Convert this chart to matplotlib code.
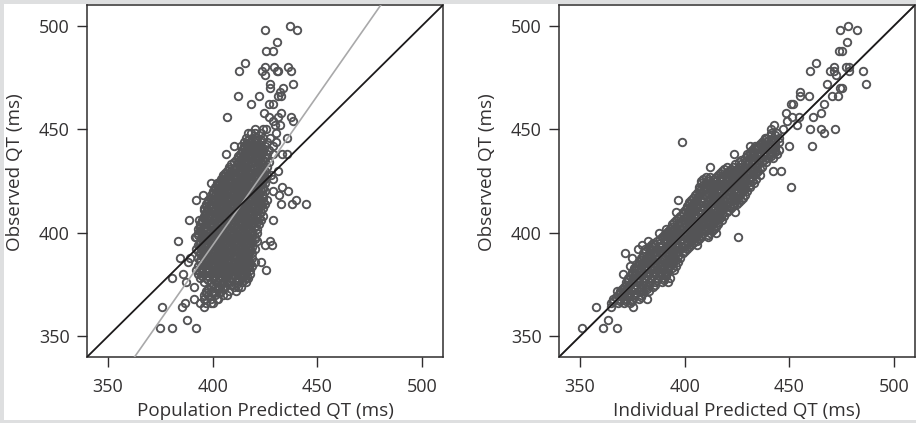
import matplotlib
matplotlib.use("Agg")
import matplotlib.pyplot as plt
from matplotlib.patches import Rectangle

######################################################## Data ######################################################
# scattered points around the edge of each cloud
pop_outliers = [
    (437, 500), (440.4, 498), (425, 498), (430.7, 492), (425.3, 488), (428.8, 488), (415.3, 482), (412.6, 478),
    (425, 480), (429.3, 480), (436, 480), (437.6, 478), (423.6, 478), (425, 476), (431.2, 478), (430.7, 478),
    (438.5, 472), (427.2, 472), (427.2, 470), (433.4, 470), (432, 468), (432.8, 466), (431.2, 466), (412.3, 466),
    (422, 466), (418.5, 462), (427, 462), (429, 462), (432.5, 458), (424.4, 458), (406.7, 456), (437.3, 456),
    (438.5, 454), (427, 456), (428.8, 454), (431, 456), (429.9, 452), (432, 452), (420, 450), (424, 450),
    (425.6, 450), (418.5, 448), (430.4, 448), (435.5, 446), (427.5, 446), (410, 442), (413.4, 442), (406.2, 438),
    (430.4, 444), (428.8, 442), (433, 438), (435.5, 438), (428.8, 438), (427, 434), (431, 430), (428, 428),
    (428.8, 426), (399, 424), (402, 424), (404.6, 426), (433.3, 422), (436, 420), (428.8, 420), (431.7, 418),
    (395.4, 418), (392, 416), (439.6, 416), (437.7, 414), (432.5, 414), (444.7, 414), (429, 406), (388.7, 406),
    (393.3, 406), (383.4, 396), (427.2, 396), (428.5, 394), (424.8, 394), (391.4, 398), (384.2, 388), (389.3, 388),
    (388.2, 386), (423.2, 386), (425.3, 382), (380.7, 378), (386, 380), (387.4, 376), (391, 374), (391, 368),
    (376, 364), (385.5, 364), (387, 366), (393.8, 366), (395.9, 364), (400, 366), (402.5, 368), (407, 370),
    (411, 372), (413.7, 374), (416, 378), (387.6, 358), (375, 354), (380.6, 354), (391.9, 354),
]

ind_outliers = [
    (351.1, 354), (357.8, 364), (361, 354), (363.5, 358), (367.8, 354), (364.8, 364), (375.5, 364), (381.8, 368),
    (367.5, 372), (370.5, 380), (371.5, 390), (375, 388), (373.7, 384), (377.7, 392), (379.7, 394), (382.6, 396),
    (387.7, 400), (391, 402), (396, 410), (397, 416), (398.6, 444), (425.6, 398), (412, 432), (423.6, 438),
    (431, 442), (433.5, 442), (451, 422), (446, 430), (442, 430), (449.8, 442), (461, 442), (459.9, 450),
    (471.7, 450), (465.3, 450), (466.6, 448), (461.5, 456), (465, 458), (466.6, 462), (453.8, 452), (454.6, 456),
    (451.4, 456), (449, 454), (448.2, 458), (447, 450), (442.6, 452), (441, 450), (438.4, 446), (450.6, 462),
    (451.9, 462), (455, 468), (455, 466), (459.4, 466), (467.8, 472), (459.9, 478), (462.9, 482), (470.5, 466),
    (473.4, 466), (474.2, 470), (475.3, 470), (471.5, 480), (469.6, 478), (471.5, 478), (472.3, 476), (477, 480),
    (478.6, 480), (478.6, 478), (485.2, 478), (486.5, 472), (473.7, 488), (475.3, 488), (477.7, 492), (474, 498),
    (478.2, 500), (482.2, 498),
]

# dense part of each cloud, one row per observed QT level
pop_levels = [448, 446, 444, 442, 440, 438, 436, 434, 432, 430, 428, 426, 424, 422, 420, 418, 416, 414, 412, 410,
              408, 406, 404, 402, 400, 398, 396, 394, 392, 390, 388, 386, 384, 382, 380, 378, 376, 374, 372, 370,
              368, 366]
pop_rows = [
    [417, 420, 423],
    [416, 419, 421, 424],
    [415, 418, 420, 423, 426],
    [415, 417, 420, 422, 425],
    [414, 417, 419, 421, 424, 427],
    [413, 415, 418, 420, 423, 426],
    [412, 414, 417, 419, 422, 425],
    [410, 412, 415, 417, 420, 423, 425],
    [408, 411, 413, 416, 418, 421, 424, 426],
    [407, 409, 412, 414, 417, 419, 422, 425],
    [405, 408, 410, 413, 415, 418, 420, 423, 426],
    [404, 406, 409, 411, 414, 416, 419, 421, 424],
    [403, 405, 408, 410, 413, 415, 418, 420, 423, 425],
    [401, 404, 406, 409, 411, 414, 416, 419, 421, 424],
    [400, 402, 405, 407, 410, 412, 415, 417, 420, 423, 425],
    [399, 401, 404, 406, 409, 411, 414, 416, 419, 421, 424],
    [398, 400, 403, 405, 408, 410, 413, 415, 418, 420, 423, 426],
    [397, 399, 402, 404, 407, 409, 412, 414, 417, 419, 422, 425],
    [396, 399, 401, 404, 406, 409, 411, 414, 416, 419, 421, 424],
    [397, 400, 402, 405, 407, 410, 412, 415, 417, 420, 423],
    [396, 398, 401, 403, 406, 408, 411, 413, 416, 418, 421, 424],
    [395, 398, 400, 403, 405, 408, 410, 413, 415, 418, 420, 423],
    [394, 397, 399, 402, 404, 407, 409, 412, 414, 417, 419, 422],
    [393, 396, 398, 401, 403, 406, 408, 411, 413, 416, 418, 421],
    [393, 395, 398, 400, 403, 405, 408, 410, 413, 415, 418, 421],
    [392, 395, 397, 400, 402, 405, 407, 410, 412, 415, 417, 420],
    [394, 396, 399, 401, 404, 406, 409, 411, 414, 416, 419, 421],
    [393, 396, 398, 401, 403, 406, 408, 411, 413, 416, 418],
    [392, 395, 398, 400, 403, 405, 408, 410, 413, 415, 418, 420],
    [394, 397, 399, 402, 404, 407, 409, 412, 414, 417, 419],
    [393, 396, 398, 401, 403, 406, 408, 411, 413, 416, 419],
    [394, 397, 400, 402, 405, 407, 410, 412, 415, 418, 420],
    [393, 396, 399, 401, 404, 406, 409, 411, 414, 417, 419],
    [392, 395, 398, 400, 403, 405, 408, 411, 413, 416, 418],
    [393, 396, 399, 402, 405, 407, 410, 413, 415, 418],
    [394, 397, 400, 403, 406, 409, 412, 414, 417],
    [396, 399, 402, 405, 407, 411, 414, 416],
    [399, 403, 406, 410, 412],
    [397, 400, 404, 408],
    [396, 398, 401, 405],
    [396, 399, 402],
    [397, 399],
]
pop_levels_odd = [445, 443, 441, 439, 437, 435, 433, 431, 429, 427, 425, 423, 421, 419, 417, 415, 413, 411, 409, 407,
                  405, 403, 401, 399, 397, 395, 393, 391, 389, 387, 385, 383, 381, 379, 377, 375, 373, 371]
pop_rows_odd = [
    [417, 420, 423],
    [416, 419, 422],
    [415, 418, 420, 423],
    [414, 416, 419, 422, 424],
    [412, 415, 418, 421, 423],
    [411, 413, 416, 419, 421, 424],
    [409, 412, 414, 417, 420, 422],
    [408, 410, 413, 416, 418, 421, 423],
    [406, 409, 412, 414, 417, 419, 422, 424],
    [405, 407, 410, 412, 415, 417, 420, 422, 425],
    [404, 407, 409, 412, 414, 417, 419, 422, 424],
    [402, 405, 407, 410, 412, 415, 417, 420, 422],
    [401, 403, 406, 408, 411, 413, 416, 418, 421, 424],
    [400, 403, 405, 408, 410, 413, 415, 418, 420, 422],
    [399, 402, 404, 407, 409, 412, 414, 417, 419, 422, 424],
    [398, 401, 403, 406, 408, 411, 413, 416, 418, 421, 424],
    [397, 400, 403, 405, 408, 410, 413, 415, 418, 420, 423],
    [396, 398, 401, 403, 406, 408, 411, 413, 416, 418, 421],
    [397, 399, 402, 404, 407, 409, 412, 414, 417, 419, 422],
    [396, 399, 402, 404, 407, 409, 412, 414, 417, 419, 422],
    [395, 397, 399, 402, 404, 407, 409, 412, 414, 416, 419, 421],
    [394, 396, 400, 402, 405, 407, 410, 412, 415, 417, 420],
    [394, 397, 399, 402, 404, 407, 409, 412, 414, 417, 419],
    [393, 396, 399, 401, 404, 406, 409, 411, 414, 416, 419],
    [395, 398, 400, 403, 405, 408, 410, 413, 415, 418, 420],
    [394, 397, 400, 402, 405, 407, 410, 412, 415, 417],
    [394, 397, 399, 402, 404, 407, 409, 412, 414, 417, 419],
    [393, 396, 398, 401, 403, 406, 409, 411, 414, 416, 418],
    [395, 398, 400, 403, 405, 408, 410, 413, 415, 417],
    [394, 397, 399, 402, 404, 407, 409, 412, 414, 417],
    [395, 398, 400, 403, 405, 408, 410, 413, 416, 418],
    [394, 397, 400, 402, 405, 407, 410, 412, 415, 417],
    [394, 397, 400, 403, 406, 409, 411, 414, 416],
    [395, 398, 401, 404, 407, 410, 413, 415],
    [398, 401, 404, 408, 412, 415],
    [400, 404, 409, 411],
    [398, 402, 405],
    [397, 400, 403],
]

ind_levels = [448, 446, 444, 442, 440, 438, 436, 434, 432, 430, 428, 426, 424, 422, 420, 418, 416, 414, 412, 410,
              408, 406, 404, 402, 400, 398, 396, 394, 392, 390, 388, 386, 384, 382, 380, 378, 376, 374, 372, 370,
              368, 366]
ind_rows = [
    [441, 444],
    [439, 442, 445],
    [437, 439, 442, 445],
    [435, 438, 440, 443],
    [432, 434, 437, 440, 443, 445],
    [430, 433, 435, 438, 441, 444],
    [429, 431, 434, 437, 440, 442],
    [426, 429, 432, 434, 437, 439],
    [420, 423, 426, 429, 431, 434, 437],
    [418, 421, 424, 427, 430, 432, 435],
    [416, 419, 422, 425, 427, 430, 433, 436],
    [409, 411, 414, 417, 420, 423, 426, 428, 431, 434],
    [408, 410, 413, 416, 419, 421, 424, 427, 430, 433],
    [407, 410, 412, 415, 418, 420, 423, 426, 429, 431],
    [407, 409, 412, 414, 417, 420, 422, 425, 428, 430],
    [405, 407, 410, 413, 415, 418, 421, 423, 426, 429],
    [403, 406, 408, 411, 414, 416, 419, 422, 424, 427],
    [402, 404, 407, 410, 412, 415, 418, 420, 423, 425],
    [401, 403, 406, 409, 411, 414, 417, 419, 422],
    [399, 402, 404, 407, 410, 412, 415, 417, 420, 424],
    [398, 401, 403, 406, 409, 411, 414, 416, 419],
    [396, 399, 402, 404, 407, 409, 412, 415, 418],
    [394, 397, 400, 402, 405, 408, 410, 413, 416],
    [393, 395, 398, 401, 403, 406, 409, 411, 414],
    [391, 393, 396, 399, 401, 404, 407, 409, 412, 415],
    [389, 392, 394, 397, 400, 402, 405, 408, 411],
    [387, 390, 393, 395, 398, 401, 403, 406],
    [384, 386, 389, 392, 394, 397, 400, 403, 406],
    [381, 384, 387, 390, 392, 395, 398, 401],
    [380, 383, 385, 388, 391, 394, 396, 399],
    [379, 382, 384, 387, 390, 393, 395, 398],
    [378, 381, 383, 386, 389, 392, 394, 397],
    [377, 379, 382, 385, 388, 390, 393, 396],
    [376, 379, 381, 384, 387, 389, 392, 395],
    [375, 377, 380, 383, 386, 388, 391],
    [373, 376, 378, 381, 384, 387, 390, 393],
    [372, 375, 378, 380, 383, 386, 389, 392],
    [371, 373, 376, 379, 382, 385],
    [369, 372, 375, 378, 380, 383],
    [368, 370, 373, 376, 379],
    [366, 369, 372, 375, 378],
    [365, 368, 371, 374],
]
ind_levels_odd = [447, 445, 443, 441, 439, 437, 435, 433, 431, 429, 427, 425, 423, 421, 419, 417, 415, 413, 411, 409,
                  407, 405, 403, 401, 399, 397, 395, 393, 391, 389, 387, 385, 383, 381, 379, 377, 375, 373, 371, 369,
                  367]
ind_rows_odd = [
    [441, 443],
    [438, 441, 443],
    [436, 438, 441, 443],
    [433, 435, 438, 441, 443],
    [431, 433, 436, 438, 441, 443],
    [430, 432, 435, 438, 441],
    [427, 430, 433, 435, 438],
    [424, 427, 430, 432, 435],
    [419, 422, 425, 428, 431, 433, 436],
    [417, 420, 423, 426, 428, 431, 434],
    [410, 412, 415, 418, 421, 424, 427, 429, 432],
    [408, 411, 415, 418, 420, 423, 426, 429, 432],
    [409, 411, 414, 417, 420, 422, 425, 428, 431],
    [407, 410, 413, 416, 419, 421, 424, 427, 429],
    [406, 408, 411, 414, 416, 419, 422, 424, 427],
    [404, 406, 409, 412, 415, 417, 420, 423, 425, 428],
    [402, 405, 408, 411, 413, 416, 419, 421, 424, 426],
    [401, 404, 406, 408, 411, 413, 416, 419, 421, 423],
    [400, 402, 405, 408, 411, 413, 416, 418, 421],
    [399, 401, 403, 405, 408, 410, 413, 416, 418],
    [397, 400, 403, 405, 408, 410, 413, 415, 417],
    [395, 398, 400, 403, 406, 409, 411, 414, 416],
    [394, 396, 399, 402, 404, 407, 410, 412, 415],
    [392, 394, 397, 400, 402, 405, 408, 410, 413],
    [390, 392, 395, 398, 400, 403, 406, 408, 411],
    [388, 391, 394, 396, 399, 402, 404, 407],
    [385, 388, 391, 393, 396, 399, 401, 404],
    [383, 385, 388, 391, 393, 396, 399, 402],
    [381, 384, 386, 389, 392, 395, 397, 400],
    [380, 383, 386, 389, 392, 394, 397],
    [379, 381, 384, 387, 390, 393, 396],
    [378, 380, 383, 386, 389, 391, 394],
    [376, 378, 381, 384, 386, 389, 392, 394],
    [375, 378, 380, 383, 386, 388, 391],
    [374, 376, 379, 382, 385, 388, 391],
    [373, 375, 378, 381, 384, 387, 390],
    [372, 374, 377, 380, 383, 386],
    [370, 373, 376, 379, 382],
    [369, 371, 374, 377, 380],
    [367, 370, 373, 376, 379],
    [366, 369, 372, 375],
]

ticks = [350, 400, 450, 500]
axis_range = [340, 510]
identity_x = [340, 510]
identity_y = [340, 510]
pop_fit_x = [362.7, 480.3]
pop_fit_y = [340, 510]
ind_fit_x = [340, 510]
ind_fit_y = [340, 510]
###################################################################################################################################################

W, H = 916, 423
POINT_COLOR = "#545456"
FRAME_COLOR = "#2f2d2e"
TEXT_COLOR = "#333132"
FIT_COLOR = "#a9a9aa"

plt.rcParams['font.family'] = ['Open Sans', 'DejaVu Sans']


def collect_points(outliers, levels, rows):
    xs = [p[0] for p in outliers]
    ys = [p[1] for p in outliers]
    for level, row in zip(levels, rows):
        xs.extend(row)
        ys.extend([level] * len(row))
    return xs, ys


def draw_panel(fig, box, xs, ys, fit_x, fit_y, xlabel):
    left, top, right, bottom = box
    ax = fig.add_axes([left / W, 1 - bottom / H, (right - left) / W, (bottom - top) / H])
    ax.plot(xs, ys, linestyle="none", marker="o", markersize=5.4, markerfacecolor="none",
            markeredgecolor=POINT_COLOR, markeredgewidth=1.35, zorder=2)
    ax.plot(fit_x, fit_y, color=FIT_COLOR, linewidth=1.2, zorder=3)
    ax.plot(identity_x, identity_y, color="#1c1a1b", linewidth=1.3, zorder=4)
    ax.set_xlim(axis_range)
    ax.set_ylim(axis_range)
    ax.set_xticks(ticks)
    ax.set_yticks(ticks)
    ax.tick_params(length=7, width=1.0, color=FRAME_COLOR, labelcolor=TEXT_COLOR, labelsize=13)
    ax.tick_params(axis="x", pad=8)
    ax.tick_params(axis="y", pad=5.5)
    ax.set_xlabel(xlabel, fontsize=13.6, color=TEXT_COLOR, labelpad=4.5)
    ax.set_ylabel("Observed QT (ms)", fontsize=13.6, color=TEXT_COLOR)
    ax.yaxis.set_label_coords(-0.176, 0.526)
    for spine in ax.spines.values():
        spine.set_color(FRAME_COLOR)
        spine.set_linewidth(1.1)
    return ax


def main():
    fig = plt.figure(figsize=(W / 100, H / 100), dpi=100, facecolor="#dedfe0")
    fig.add_artist(Rectangle((4 / W, 3 / H), 1, 1 - 7 / H, transform=fig.transFigure,
                             facecolor="white", edgecolor="none", zorder=-1))

    pop_x, pop_y = collect_points(pop_outliers, pop_levels + pop_levels_odd, pop_rows + pop_rows_odd)
    ind_x, ind_y = collect_points(ind_outliers, ind_levels + ind_levels_odd, ind_rows + ind_rows_odd)

    draw_panel(fig, (87, 5, 443, 357), pop_x, pop_y, pop_fit_x, pop_fit_y, "Population Predicted QT (ms)")
    draw_panel(fig, (559, 5, 915, 357), ind_x, ind_y, ind_fit_x, ind_fit_y, "Individual Predicted QT (ms)")

    fig.savefig("out.png", dpi=100, facecolor=fig.get_facecolor())


if __name__ == "__main__":
    main()
